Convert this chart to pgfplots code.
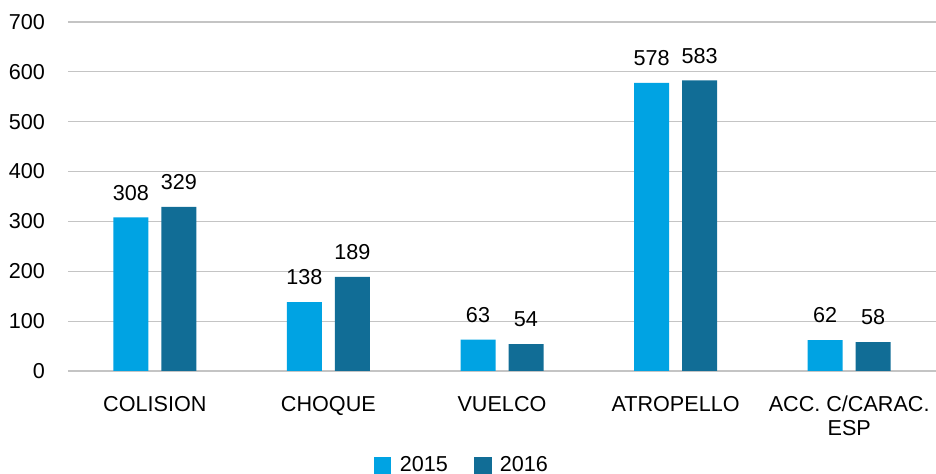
\documentclass[border=0pt]{standalone}
\usepackage{fontspec}
\setmainfont{Liberation Sans}
\usepackage{pgfplots}
\pgfplotsset{compat=1.18}
\definecolor{c2015}{HTML}{00A3E3}
\definecolor{c2016}{HTML}{116D96}
\definecolor{gridc}{HTML}{C4C4C4}
\begin{document}
\begin{tikzpicture}
\begin{axis}[
  scale only axis,
  width=434pt, height=174.5pt,
  ybar=6.5pt, bar width=17.5pt,
  xmin=-0.5, xmax=4.5,
  ymin=0, ymax=700,
  ytick={0,100,...,700},
  xtick={0,1,2,3,4},
  xticklabels={COLISION,CHOQUE,VUELCO,ATROPELLO,{ACC. C/CARAC.\\ESP}},
  x tick label style={align=center, font=\fontsize{10.8}{11.8}\selectfont, yshift=-9pt},
  y tick label style={font=\fontsize{10.8}{12}\selectfont, xshift=-8pt},
  /pgf/number format/assume math mode=true,
  major tick length=0pt,
  axis line style={draw=none},
  ymajorgrids, major grid style={gridc, line width=0.6pt},
  nodes near coords,
  every node near coord/.append style={font=\fontsize{10.8}{12}\selectfont, text=black, yshift=5pt},
  legend style={draw=none, at={(axis description cs:0.455,-0.27)}, anchor=center,
    legend columns=2, font=\fontsize{10.8}{12}\selectfont,
    /tikz/every even column/.append style={column sep=11pt}},
  legend image code/.code={\fill[#1] (0pt,-4.2pt) rectangle (8.8pt,4.3pt); \path (11pt,0pt);},
]
\addplot[fill=c2015, draw=none] coordinates {(0,308) (1,138) (2,63) (3,578) (4,62)};
\addplot[fill=c2016, draw=none] coordinates {(0,329) (1,189) (2,54) (3,583) (4,58)};
\legend{2015,2016}
\end{axis}
\pgfresetboundingbox
\path ([xshift=-34pt,yshift=-51.5pt]current axis.south west) rectangle ([yshift=11pt]current axis.north east);
\end{tikzpicture}
\end{document}
